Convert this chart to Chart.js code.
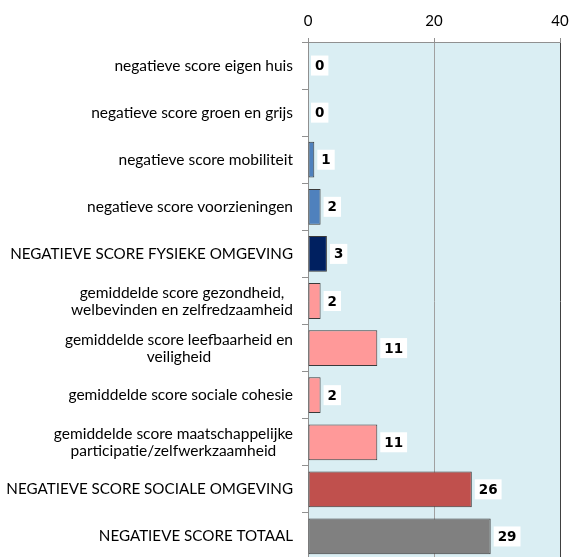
<!DOCTYPE html>
<html>
<head>
<meta charset="utf-8">
<script src="https://cdn.jsdelivr.net/npm/chart.js@4"></script>
<style>
  html, body { margin: 0; padding: 0; background: #fff; overflow: hidden; }
  #wrap { position: relative; width: 573px; height: 562px; }
</style>
</head>
<body>
<div id="wrap"><canvas id="scoreChart"></canvas></div>
<script>
// categorieën (regels per label)
const categorieen = [
    ['negatieve score eigen huis'],
    ['negatieve score groen en grijs'],
    ['negatieve score mobiliteit'],
    ['negatieve score voorzieningen'],
    ['NEGATIEVE SCORE FYSIEKE OMGEVING'],
    ['gemiddelde score gezondheid,', 'welbevinden en zelfredzaamheid'],
    ['gemiddelde score leefbaarheid en', 'veiligheid'],
    ['gemiddelde score sociale cohesie'],
    ['gemiddelde score maatschappelijke', 'participatie/zelfwerkzaamheid'],
    ['NEGATIEVE SCORE SOCIALE OMGEVING'],
    ['NEGATIEVE SCORE TOTAAL']
];
const scores = [0, 0, 1, 2, 3, 2, 11, 2, 11, 26, 29];
const xTicks = [0, 20, 40];

const kleuren = ['#4f81bd', '#4f81bd', '#4f81bd', '#4f81bd', '#002060',
    '#ff9999', '#ff9999', '#ff9999', '#ff9999', '#c0504d', '#808080'];

// achtergrond van het plotgebied
const achtergrond = {
    id: 'achtergrond',
    beforeDraw(chart) {
        const a = chart.chartArea, ctx = chart.ctx;
        ctx.save();
        ctx.fillStyle = '#daeef3';
        ctx.fillRect(a.left, a.top, a.right - a.left, a.bottom - a.top);
        ctx.restore();
    }
};

// labels links, blokken gecentreerd en rechts uitgelijnd
const yLabels = {
    id: 'yLabels',
    afterDraw(chart) {
        const ctx = chart.ctx, y = chart.scales.y;
        ctx.save();
        ctx.fillStyle = '#000';
        ctx.textAlign = 'center';
        ctx.textBaseline = 'middle';
        const rechts = chart.chartArea.left - 15;
        const lh = 17;
        categorieen.forEach((regels, i) => {
            // hoofdletters iets smaller, zoals in het origineel
            ctx.font = regels[0] === regels[0].toUpperCase() ? '15.2px Lato' : '15.5px Lato';
            const yc = y.getPixelForValue(i);
            const breed = Math.max(...regels.map(r => ctx.measureText(r).width));
            const y0 = yc - (regels.length - 1) * lh / 2;
            regels.forEach((r, j) => ctx.fillText(r, rechts - breed / 2, y0 + j * lh));
        });
        ctx.restore();
    }
};

// waardelabels met witte achtergrond
const waardes = {
    id: 'waardes',
    afterDatasetsDraw(chart) {
        const ctx = chart.ctx;
        const meta = chart.getDatasetMeta(0);
        ctx.save();
        ctx.font = 'bold 13.5px "DejaVu Sans"';
        ctx.textBaseline = 'middle';
        ctx.textAlign = 'left';
        meta.data.forEach((bar, i) => {
            const t = String(scores[i]);
            const w = ctx.measureText(t).width;
            const x = bar.x + 3;
            ctx.fillStyle = '#fff';
            ctx.fillRect(x, bar.y - 10, w + 8, 20);
            ctx.fillStyle = '#000';
            ctx.fillText(t, x + 4, bar.y + 1);
        });
        ctx.restore();
    }
};

new Chart(document.getElementById('scoreChart'), {
    type: 'bar',
    data: {
        labels: categorieen.map(c => c.join(' ')),
        datasets: [{
            data: scores,
            backgroundColor: kleuren,
            borderColor: '#3a3a3a',
            borderWidth: 1,
            borderSkipped: false,
            barPercentage: 0.76,
            categoryPercentage: 1
        }]
    },
    options: {
        indexAxis: 'y',
        responsive: true,
        maintainAspectRatio: false,
        animation: false,
        layout: { padding: { top: 4, right: 13, bottom: 2, left: 0 } },
        plugins: {
            legend: { display: false },
            tooltip: { enabled: false }
        },
        scales: {
            x: {
                position: 'top',
                min: 0,
                max: 40,
                afterBuildTicks: s => { s.ticks = xTicks.map(v => ({ value: v })); },
                afterFit: s => { s.paddingRight = 0; s.paddingLeft = 0; },
                ticks: { color: '#000', font: { family: 'Lato', size: 15 }, padding: 8 },
                grid: {
                    color: ctx => ctx.tick && ctx.tick.value === 40 ? '#404040' : '#a0a0a0',
                    tickLength: 4,
                    tickColor: '#909090'
                },
                border: { color: '#909090' }
            },
            y: {
                afterFit: s => { s.width = 308; },
                ticks: { display: false },
                grid: {
                    drawOnChartArea: false,
                    offset: true,
                    tickLength: 6,
                    color: '#909090'
                },
                border: { color: '#909090' }
            }
        }
    },
    plugins: [achtergrond, yLabels, waardes]
});
</script>
</body>
</html>
